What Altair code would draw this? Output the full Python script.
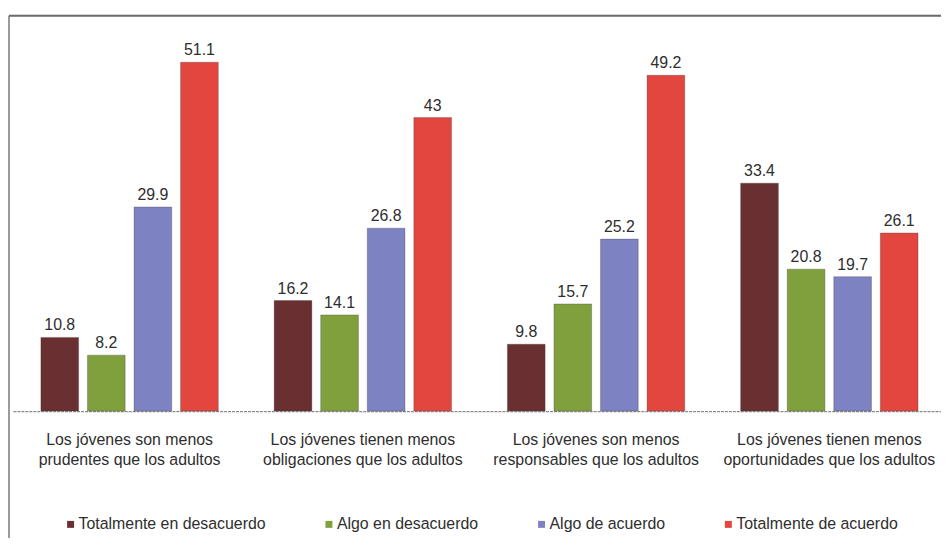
import altair as alt
import pandas as pd

# ---- data ----
groups = [
    "Los jóvenes son menos|prudentes que los adultos",
    "Los jóvenes tienen menos|obligaciones que los adultos",
    "Los jóvenes son menos|responsables que los adultos",
    "Los jóvenes tienen menos|oportunidades que los adultos",
]
series = [
    "Totalmente en desacuerdo",
    "Algo en desacuerdo",
    "Algo de acuerdo",
    "Totalmente de acuerdo",
]
totalmente_desacuerdo = [10.8, 16.2, 9.8, 33.4]
algo_desacuerdo = [8.2, 14.1, 15.7, 20.8]
algo_acuerdo = [29.9, 26.8, 25.2, 19.7]
totalmente_acuerdo = [51.1, 43, 49.2, 26.1]
colors = ["#6a2f30", "#7fa03c", "#7d82c2", "#e2463f"]

values_by_series = [totalmente_desacuerdo, algo_desacuerdo, algo_acuerdo, totalmente_acuerdo]
rows = []
for s, vals in zip(series, values_by_series):
    for g, v in zip(groups, vals):
        rows.append({"grupo": g, "serie": s, "valor": v, "etiqueta": str(v)})
df = pd.DataFrame(rows)

FONT = "Liberation Sans"
TXT = "#2e2e2e"
FS = 16

x_scale = alt.Scale(paddingInner=0, paddingOuter=0, range=[0, 939])

x_enc = alt.X(
    "grupo:N",
    sort=groups,
    scale=x_scale,
    axis=alt.Axis(
        title=None,
        labelAngle=0,
        labelExpr="split(datum.label, '|')",
        labelFont=FONT,
        labelFontSize=FS,
        labelColor=TXT,
        labelLineHeight=20,
        labelPadding=21,
        labelBaseline="top",
        labelLimit=0,
        ticks=False,
        grid=False,
        domainColor="#8a8a8a",
        domainWidth=1.2,
        domainDash=[3, 1],
    ),
)
xoff_enc = alt.XOffset(
    "serie:N",
    sort=series,
    scale=alt.Scale(paddingInner=0.19, paddingOuter=0.6),
)
y_enc = alt.Y(
    "valor:Q",
    scale=alt.Scale(domain=[0, 57.94], nice=False, zero=True),
    axis=None,
)

bars = alt.Chart(df).mark_bar(stroke="#3a3a3a", strokeWidth=0.6, strokeOpacity=0.5).encode(
    x=x_enc,
    xOffset=xoff_enc,
    y=y_enc,
    color=alt.Color(
        "serie:N",
        sort=series,
        scale=alt.Scale(domain=series, range=colors),
        legend=alt.Legend(
            title=None,
            orient="none",
            legendX=50,
            legendY=504,
            direction="horizontal",
            columns=4,
            columnPadding=55,
            symbolType="square",
            symbolSize=49,
            symbolStrokeWidth=0,
            labelFont=FONT,
            labelFontSize=FS,
            labelColor=TXT,
            labelOffset=0,
            labelLimit=0,
            padding=0,
        ),
    ),
)

labels = alt.Chart(df).mark_text(
    baseline="bottom", dy=-4, font=FONT, fontSize=FS, color=TXT
).encode(
    x=alt.X("grupo:N", sort=groups, scale=x_scale),
    xOffset=alt.XOffset("serie:N", sort=series),
    y=alt.Y("valor:Q"),
    text="etiqueta:N",
)

frame_df = pd.DataFrame({"k": [0]})
frame_left = alt.Chart(frame_df).mark_rule(color="#7a7a7a", strokeWidth=1.5).encode(
    x=alt.value(-4), y=alt.value(0), y2=alt.value(530)
)
frame_top = alt.Chart(frame_df).mark_rule(color="#6a6a6a", strokeWidth=2).encode(
    x=alt.value(-4), x2=alt.value(940), y=alt.value(0)
)

chart = (
    alt.layer(bars, labels, frame_left, frame_top)
    .properties(
        width=934,
        height=398,
        autosize=alt.AutoSizeParams(type="none"),
        padding={"left": 5, "top": 6, "right": 0, "bottom": 126},
        background="white",
    )
    .configure_view(stroke=None)
)

chart.save("out.html", embed_options={"renderer": "svg", "actions": False})
